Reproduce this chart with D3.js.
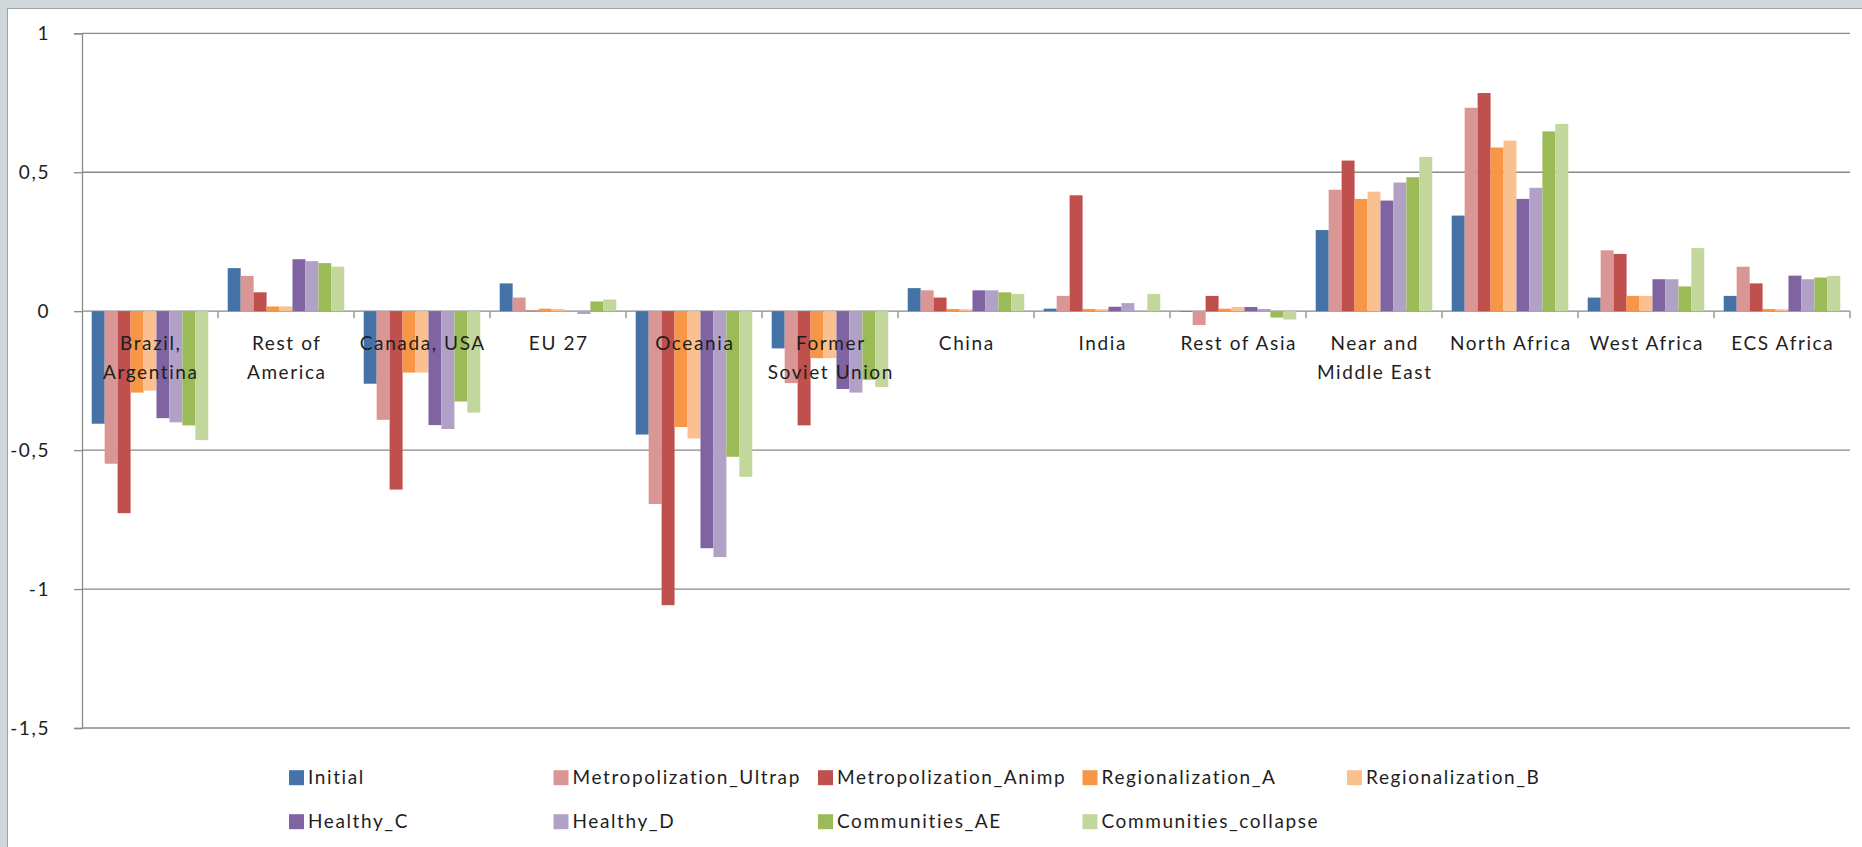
<!DOCTYPE html>
<html><head><meta charset="utf-8">
<script src="https://cdn.jsdelivr.net/npm/d3@7"></script>
<style>
html,body{margin:0;padding:0;background:#d0d8dc;}
svg{display:block;}
text{font-family:Lato,"Open Sans",sans-serif;fill:#1e1e1e;letter-spacing:1.6px;}
</style></head><body>
<svg id="c" width="1862" height="847"></svg>
<script>
const categories = ["Brazil,|Argentina","Rest of|America","Canada, USA","EU 27","Oceania","Former|Soviet Union","China","India","Rest of Asia","Near and|Middle East","North Africa","West Africa","ECS Africa"];
const seriesNames = ["Initial","Metropolization_Ultrap","Metropolization_Animp","Regionalization_A","Regionalization_B","Healthy_C","Healthy_D","Communities_AE","Communities_collapse"];
const seriesColors = ["#4572A7","#D99694","#C0504D","#F79646","#FAC090","#8064A2","#B2A1C7","#9BBB59","#C3D69B"];
const initial   = [-0.405, 0.155, -0.261, 0.100, -0.444, -0.134, 0.083, 0.009, -0.002, 0.292, 0.344, 0.049, 0.055];
const metroUltrap = [-0.549, 0.127, -0.391, 0.049, -0.694, -0.259, 0.075, 0.055, -0.050, 0.437, 0.732, 0.219, 0.160];
const metroAnimp  = [-0.727, 0.068, -0.642, 0.002, -1.058, -0.411, 0.049, 0.417, 0.055, 0.542, 0.785, 0.206, 0.100];
const regionA   = [-0.293, 0.017, -0.221, 0.009, -0.417, -0.169, 0.008, 0.008, 0.009, 0.404, 0.589, 0.055, 0.008];
const regionB   = [-0.286, 0.017, -0.221, 0.008, -0.458, -0.169, 0.007, 0.007, 0.015, 0.430, 0.614, 0.055, 0.007];
const healthyC  = [-0.385, 0.187, -0.410, 0.000, -0.853, -0.280, 0.075, 0.016, 0.015, 0.398, 0.404, 0.115, 0.128];
const healthyD  = [-0.400, 0.180, -0.424, -0.010, -0.885, -0.293, 0.075, 0.029, 0.008, 0.463, 0.444, 0.115, 0.115];
const commAE    = [-0.411, 0.173, -0.325, 0.035, -0.524, -0.247, 0.068, 0.000, -0.023, 0.482, 0.647, 0.089, 0.121];
const commCollapse = [-0.464, 0.160, -0.365, 0.042, -0.596, -0.273, 0.062, 0.062, -0.030, 0.555, 0.674, 0.227, 0.127];
const yTicks = [1, 0.5, 0, -0.5, -1, -1.5];
const yTickLabels = ["1","0,5","0","-0,5","-1","-1,5"];

const seriesValues = [initial, metroUltrap, metroAnimp, regionA, regionB, healthyC, healthyD, commAE, commCollapse];

(function(){
const svg = d3.select("#c");
svg.append("rect").attr("x",7.5).attr("y",8.5).attr("width",1862).attr("height",847)
  .attr("fill","#fff").attr("stroke","#9aa3a7").attr("stroke-width",1);

const pLeft = 82, pRight = 1850, pTop = 33.3, pBottom = 728;
const x0 = d3.scaleBand().domain(categories).range([pLeft,pRight]).paddingInner(0).paddingOuter(0);
const bw = x0.bandwidth();
const gap = bw*0.75/10.5;
const x1 = d3.scaleBand().domain(seriesNames).range([gap, bw-gap]).padding(0);
const y = d3.scaleLinear().domain([-1.5,1]).range([pBottom, pTop]);

svg.append("g").selectAll("line").data(yTicks).join("line")
  .attr("x1",pLeft).attr("x2",pRight).attr("y1",d=>y(d)).attr("y2",d=>y(d))
  .attr("stroke","#8a8a8a").attr("stroke-width",1.3);

const yAxis = d3.axisLeft(y).tickValues(yTicks).tickSize(8).tickPadding(24)
  .tickFormat((d,i)=>yTickLabels[i]);
const ga = svg.append("g").attr("transform",`translate(${pLeft},0)`).call(yAxis);
ga.select(".domain").attr("stroke","#8a8a8a").attr("stroke-width",1.3);
ga.selectAll(".tick line").attr("stroke","#8a8a8a").attr("stroke-width",1.3);
ga.selectAll(".tick text").attr("font-size",19).attr("font-family","Lato, sans-serif").attr("fill","#1e1e1e");

const groups = svg.append("g").selectAll("g").data(categories).join("g")
  .attr("transform",d=>`translate(${x0(d)},0)`);
groups.selectAll("rect").data((c,ci)=>seriesNames.map((s,si)=>({s,si,v:seriesValues[si][ci]})))
  .join("rect")
  .attr("x",d=>x1(d.s)).attr("width",x1.bandwidth())
  .attr("y",d=>y(Math.max(0,d.v))).attr("height",d=>Math.abs(y(d.v)-y(0)))
  .attr("fill",d=>seriesColors[d.si]);

const bounds = categories.map(c=>x0(c)).concat([pRight]);
svg.append("g").selectAll("line").data(bounds.slice(1)).join("line")
  .attr("x1",d=>d).attr("x2",d=>d).attr("y1",y(0)).attr("y2",y(0)+7)
  .attr("stroke","#8a8a8a").attr("stroke-width",1.3);

const lab = svg.append("g").selectAll("text").data(categories).join("text")
  .attr("x",d=>x0(d)+bw/2+0.8).attr("y",y(0)+39)
  .attr("text-anchor","middle").attr("font-size",19);
lab.selectAll("tspan").data(d=>d.split("|")).join("tspan")
  .attr("x",function(){return this.parentNode.getAttribute("x");})
  .attr("dy",(d,i)=>i===0?0:29).text(d=>d);

const legendRows = [[0,1,2,3,4],[5,6,7,8]];
const legX = d3.scaleLinear().domain([0,1]).range([289, 553.5]);
const legY = [777.7, 821.7];
legendRows.forEach((row,ri)=>{
  row.forEach((si,ci)=>{
    const g = svg.append("g").attr("transform",`translate(${legX(ci)},${legY[ri]})`);
    g.append("rect").attr("x",0).attr("y",-7.5).attr("width",15).attr("height",15).attr("fill",seriesColors[si]);
    g.append("text").attr("x",19).attr("y",0).attr("dy","0.35em").attr("font-size",19).text(seriesNames[si]);
  });
});
})();
</script>
</body></html>
